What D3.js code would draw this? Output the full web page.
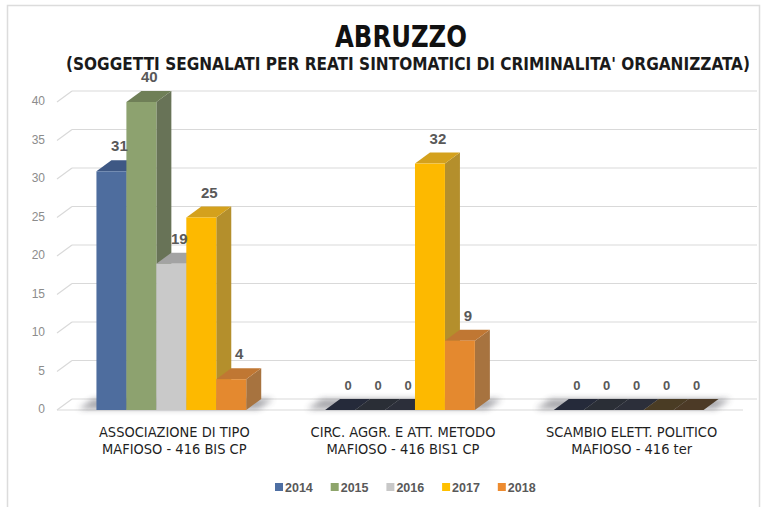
<!DOCTYPE html>
<html>
<head>
<meta charset="utf-8">
<script src="https://cdn.jsdelivr.net/npm/d3@7"></script>
<style>
  body { margin: 0; background: #fff; }
  svg { display: block; }
</style>
</head>
<body>
<div id="chart"></div>
<script>

// data
var categories = [
	["ASSOCIAZIONE DI TIPO", "MAFIOSO - 416 BIS CP"],
	["CIRC. AGGR. E ATT. METODO", "MAFIOSO - 416 BIS1 CP"],
	["SCAMBIO ELETT. POLITICO", "MAFIOSO - 416 ter"]
];
var years = ["2014", "2015", "2016", "2017", "2018"];
var values2014 = [31, 0, 0];
var values2015 = [40, 0, 0];
var values2016 = [19, 0, 0];
var values2017 = [25, 32, 0];
var values2018 = [4, 9, 0];
var yTicks = [0, 5, 10, 15, 20, 25, 30, 35, 40];

var title = "ABRUZZO";
var subtitle = "(SOGGETTI SEGNALATI PER REATI SINTOMATICI DI CRIMINALITA' ORGANIZZATA)";

var series = [values2014, values2015, values2016, values2017, values2018];

// colours: front, top, side, flat (zero height)
var fronts = ["#4e6d9e", "#8da26f", "#c9c9c9", "#fdb900", "#e4892f"];
var tops = ["#3e5884", "#6f7f57", "#a3a3a3", "#d4a11d", "#c07733"];
var sides = ["#3a5076", "#687357", "#a9a9a9", "#b48f2c", "#a7733f"];
var flats = ["#252a3a", "#2a2e36", "#2c2f3a", "#4a3c24", "#4c3a26"];
var legendColors = ["#4e6fa3", "#8ea56b", "#c8c8c8", "#ffc000", "#ed8b2f"];

var W = 783, H = 507;
var depthX = 15, depthY = 11; // 3d offset of the back wall

var svg = d3.select("#chart")
	.append("svg")
	.attr("width", W)
	.attr("height", H);

var defs = svg.append("defs");
defs.append("filter")
	.attr("id", "blur")
	.attr("x", "-50%").attr("y", "-200%")
	.attr("width", "200%").attr("height", "500%")
	.append("feGaussianBlur")
	.attr("stdDeviation", 3);

// chart border
svg.append("rect")
	.attr("x", 7.5)
	.attr("y", 5.5)
	.attr("width", 752)
	.attr("height", 540)
	.attr("fill", "#fff")
	.attr("stroke", "#dcdcdc")
	.attr("stroke-width", 1.5);

var x0 = d3.scaleBand()
	.domain(d3.range(categories.length))
	.range([57, 743])
	.paddingInner(0.345)
	.paddingOuter(0.1725);

var x1 = d3.scaleBand()
	.domain(years)
	.range([0, x0.bandwidth()]);

var yScale = d3.scaleLinear()
	.domain([0, 40])
	.range([410, 102]);

var floorY = yScale(0);
var left = x0.range()[0], right = x0.range()[1];

// gridlines on the back wall + left side wall
var grid = svg.append("g").attr("class", "grid");

grid.selectAll("line.back")
	.data(yTicks)
	.enter()
	.append("line")
	.attr("class", "back")
	.attr("x1", left + depthX)
	.attr("x2", right + 14)
	.attr("y1", d => yScale(d) - depthY)
	.attr("y2", d => yScale(d) - depthY)
	.attr("stroke", "#d9d9d9")
	.attr("stroke-width", 1.2);

grid.selectAll("line.side")
	.data(yTicks)
	.enter()
	.append("line")
	.attr("class", "side")
	.attr("x1", left)
	.attr("x2", left + depthX)
	.attr("y1", d => yScale(d))
	.attr("y2", d => yScale(d) - depthY)
	.attr("stroke", "#d9d9d9")
	.attr("stroke-width", 1.2);

// floor front edge
grid.append("line")
	.attr("x1", left)
	.attr("x2", right)
	.attr("y1", floorY)
	.attr("y2", floorY)
	.attr("stroke", "#d9d9d9")
	.attr("stroke-width", 1.2);

// y axis labels
var yAxis = d3.axisLeft(yScale)
	.tickValues(yTicks)
	.tickSize(0)
	.tickPadding(0);

svg.append("g")
	.attr("transform", "translate(45,-1)")
	.call(yAxis)
	.call(g => g.select(".domain").remove())
	.selectAll("text")
	.attr("fill", "#8c8c8c")
	.attr("font-family", "Liberation Sans, Arial, sans-serif")
	.attr("font-size", 12);

// soft shadows on the floor under each group
svg.append("g")
	.selectAll("polygon")
	.data(categories)
	.enter()
	.append("polygon")
	.attr("points", function(d, i) {
		var a = x0(i) - 18, b = x0(i) + x0.bandwidth() + 12;
		return [[a, floorY - 1], [b, floorY - 1], [b + depthX, floorY - depthY], [a + depthX, floorY - depthY]].join(" ");
	})
	.attr("fill", "#3a3a44")
	.attr("opacity", 0.45)
	.attr("filter", "url(#blur)");

function topFace(xa, xb, yt) {
	return [[xa, yt], [xb, yt], [xb + depthX, yt - depthY], [xa + depthX, yt - depthY]].join(" ");
}

function sideFace(xb, yt) {
	return [[xb, yt], [xb + depthX, yt - depthY], [xb + depthX, floorY - depthY], [xb, floorY]].join(" ");
}

// bars, drawn left to right so each front face covers its neighbour's side
var bars = svg.append("g").attr("class", "bars");

categories.forEach(function(cat, ci) {
	years.forEach(function(yr, si) {

		var v = series[si][ci];
		var xa = x0(ci) + x1(yr);
		var xb = xa + x1.bandwidth();
		var yt = yScale(v);
		var g = bars.append("g");

		if (v == 0) {
			g.append("polygon")
				.attr("points", topFace(xa, xb, yt))
				.attr("fill", flats[si]);
			return;
		}

		g.append("polygon")
			.attr("points", sideFace(xb, yt))
			.attr("fill", sides[si]);

		g.append("polygon")
			.attr("points", topFace(xa, xb, yt))
			.attr("fill", tops[si]);

		g.append("rect")
			.attr("x", xa)
			.attr("y", yt)
			.attr("width", x1.bandwidth())
			.attr("height", floorY - yt)
			.attr("fill", fronts[si]);
	});
});

// value labels
categories.forEach(function(cat, ci) {
	years.forEach(function(yr, si) {

		var v = series[si][ci];

		svg.append("text")
			.attr("x", x0(ci) + x1(yr) + x1.bandwidth() / 2 + 8)
			.attr("y", yScale(v) - 20)
			.attr("text-anchor", "middle")
			.attr("font-family", "Liberation Sans, Arial, sans-serif")
			.attr("font-weight", "bold")
			.attr("font-size", v == 0 ? 13 : 15)
			.attr("fill", "#595959")
			.text(v);
	});
});

// category labels
var catLabels = svg.append("g")
	.selectAll("text")
	.data(categories)
	.enter()
	.append("text")
	.attr("text-anchor", "middle")
	.attr("font-family", "Liberation Sans Narrow, DejaVu Sans Condensed, Arial Narrow, sans-serif")
	.attr("font-size", 14.5)
	.attr("fill", "#1f1f1f");

catLabels.selectAll("tspan")
	.data((d, i) => d.map(line => ({ line: line, i: i })))
	.enter()
	.append("tspan")
	.attr("x", d => x0(d.i) + x0.bandwidth() / 2 + 3)
	.attr("y", (d, j) => 437 + j * 17)
	.text(d => d.line);

// titles
svg.append("text")
	.attr("x", 401)
	.attr("y", 47)
	.attr("text-anchor", "middle")
	.attr("font-family", "Liberation Sans Narrow, DejaVu Sans Condensed, sans-serif")
	.attr("font-weight", "bold")
	.attr("font-size", 31)
	.attr("textLength", 132)
	.attr("lengthAdjust", "spacingAndGlyphs")
	.attr("fill", "#111")
	.text(title);

svg.append("text")
	.attr("x", 408)
	.attr("y", 70)
	.attr("text-anchor", "middle")
	.attr("font-family", "Liberation Sans Narrow, DejaVu Sans Condensed, sans-serif")
	.attr("font-weight", "bold")
	.attr("font-size", 17)
	.attr("textLength", 684)
	.attr("lengthAdjust", "spacingAndGlyphs")
	.attr("fill", "#1a1a1a")
	.text(subtitle);

// legend
var legend = svg.append("g")
	.selectAll("g")
	.data(years)
	.enter()
	.append("g")
	.attr("transform", (d, i) => "translate(" + (275 + i * 55.7) + ",483)");

legend.append("rect")
	.attr("width", 8)
	.attr("height", 8)
	.attr("fill", (d, i) => legendColors[i]);

legend.append("text")
	.attr("x", 10)
	.attr("y", 8.5)
	.attr("font-family", "Liberation Sans, Arial, sans-serif")
	.attr("font-weight", "bold")
	.attr("font-size", 12.5)
	.attr("fill", "#595959")
	.text(d => d);

</script>
</body>
</html>
